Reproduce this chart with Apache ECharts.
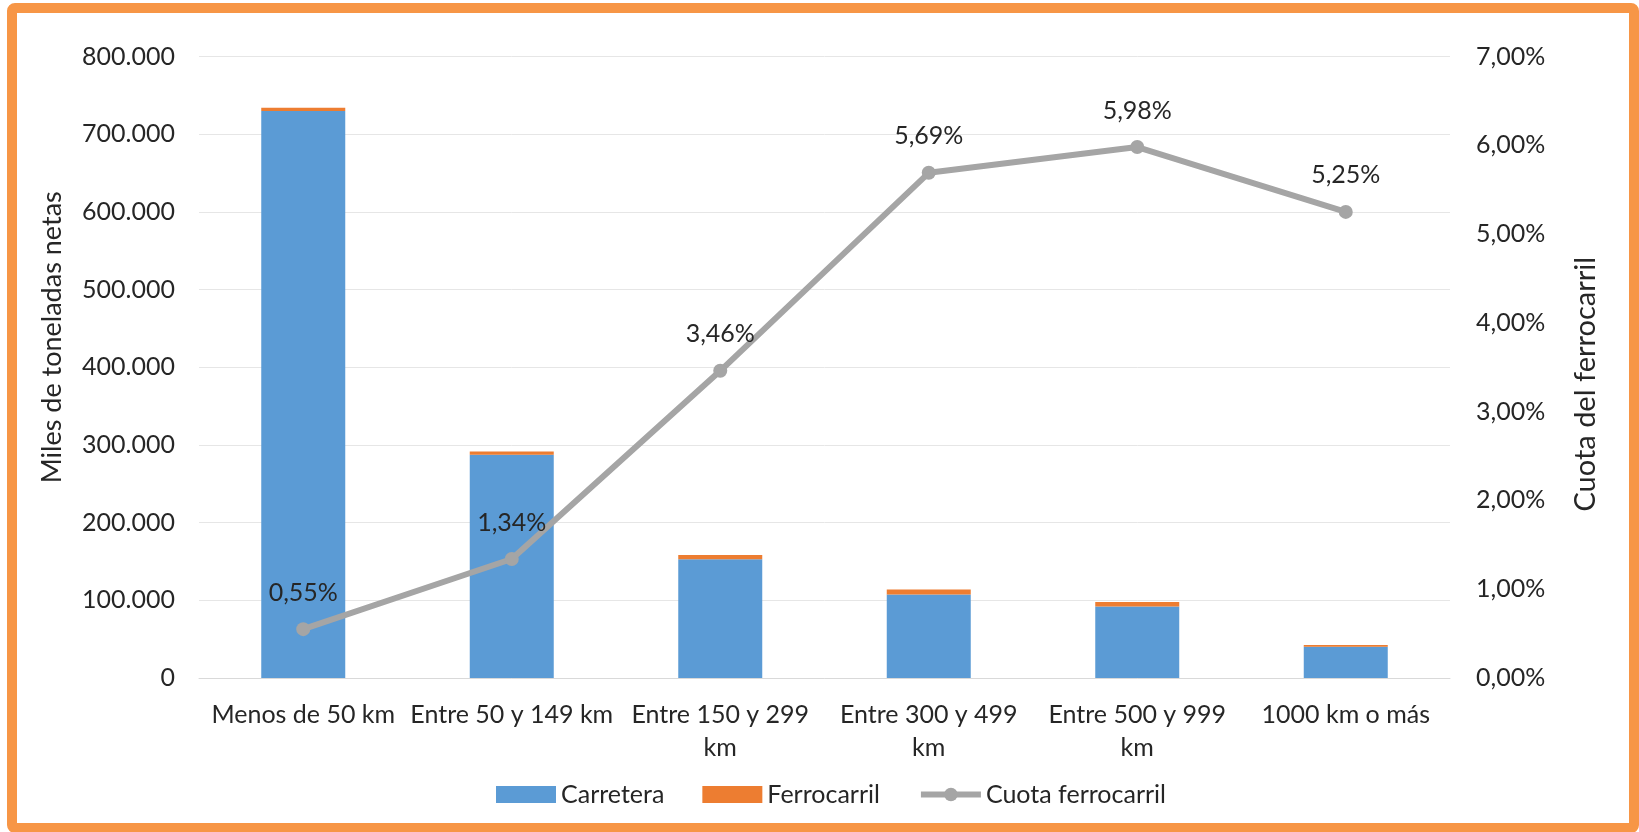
<!DOCTYPE html>
<html>
<head>
<meta charset="utf-8">
<script src="https://cdn.jsdelivr.net/npm/echarts@6/dist/echarts.min.js"></script>
<style>
html,body{margin:0;padding:0;background:#fff;}
#chart{width:1639px;height:832px;}
</style>
</head>
<body>
<div id="chart"></div>
<script>
const categories = ["Menos de 50 km", "Entre 50 y 149 km", "Entre 150 y 299\nkm", "Entre 300 y 499\nkm", "Entre 500 y 999\nkm", "1000 km o más"];
const carretera = [730000, 287500, 152800, 107400, 92000, 40300];
const ferrocarril = [4000, 3900, 5500, 6500, 5850, 2200];
const cuota = [0.55, 1.34, 3.46, 5.69, 5.98, 5.25];
const leftTicks = {min: 0, max: 800000, interval: 100000};
const rightTicks = {min: 0, max: 7, interval: 1};

const FONT = 'Lato';
const TXT = '#262626';
const chart = echarts.init(document.getElementById('chart'));
function fmtThousands(v){ return String(v).replace(/\B(?=(\d{3})+(?!\d))/g, '.'); }
function fmtPct(v){ return v.toFixed(2).replace('.', ',') + '%'; }

chart.setOption({
  animation: false,
  textStyle: {fontFamily: FONT},
  graphic: [{
    type: 'rect', silent: true,
    shape: {x: 12, y: 8, width: 1622, height: 820, r: 3},
    style: {fill: 'none', stroke: '#f79646', lineWidth: 10}
  }],
  grid: {left: 199, right: 189, top: 56.5, bottom: 154},
  legend: {
    top: 777, left: 491, itemGap: 38,
    itemWidth: 60, itemHeight: 17,
    textStyle: {fontFamily: FONT, fontSize: 25, color: TXT},
    data: [
      {name: 'Carretera', icon: 'rect'},
      {name: 'Ferrocarril', icon: 'rect'},
      {name: 'Cuota ferrocarril', lineStyle: {width: 6}, itemStyle: {color: '#a5a5a5'}}
    ]
  },
  xAxis: {
    type: 'category', data: categories,
    axisLine: {show: true, lineStyle: {color: '#d9d9d9', width: 1}},
    axisTick: {show: false},
    axisLabel: {fontFamily: FONT, fontSize: 25, color: TXT, margin: 20, lineHeight: 33, interval: 0}
  },
  yAxis: [{
    type: 'value', min: leftTicks.min, max: leftTicks.max, interval: leftTicks.interval,
    name: 'Miles de toneladas netas', nameLocation: 'middle', nameGap: 133, nameRotate: 90,
    nameTextStyle: {fontFamily: FONT, fontSize: 27, color: TXT, padding: [0, 0, 0, 60]},
    axisLine: {show: false}, axisTick: {show: false},
    axisLabel: {fontFamily: FONT, fontSize: 25, color: TXT, margin: 24, formatter: fmtThousands},
    splitLine: {lineStyle: {color: '#e6e6e6', width: 1}}
  }, {
    type: 'value', min: rightTicks.min, max: rightTicks.max, interval: rightTicks.interval,
    name: 'Cuota del ferrocarril', nameLocation: 'middle', nameGap: 121, nameRotate: 90,
    nameTextStyle: {fontFamily: FONT, fontSize: 29, color: TXT, padding: [0, 34, 0, 0]},
    axisLine: {show: false}, axisTick: {show: false},
    axisLabel: {fontFamily: FONT, fontSize: 25, color: TXT, margin: 26, formatter: fmtPct},
    splitLine: {show: false}
  }],
  series: [{
    name: 'Carretera', type: 'bar', stack: 't', data: carretera,
    barWidth: 84, itemStyle: {color: '#5b9bd5'}
  }, {
    name: 'Ferrocarril', type: 'bar', stack: 't', data: ferrocarril,
    barWidth: 84, itemStyle: {color: '#ed7d31'}
  }, {
    name: 'Cuota ferrocarril', type: 'line', yAxisIndex: 1, data: cuota,
    symbol: 'circle', symbolSize: 14,
    lineStyle: {color: '#a5a5a5', width: 6},
    itemStyle: {color: '#a5a5a5'},
    label: {show: true, position: 'top', distance: 17, fontFamily: FONT, fontSize: 25, color: TXT, formatter: p => fmtPct(p.value)},
    z: 5
  }]
});
</script>
</body>
</html>
